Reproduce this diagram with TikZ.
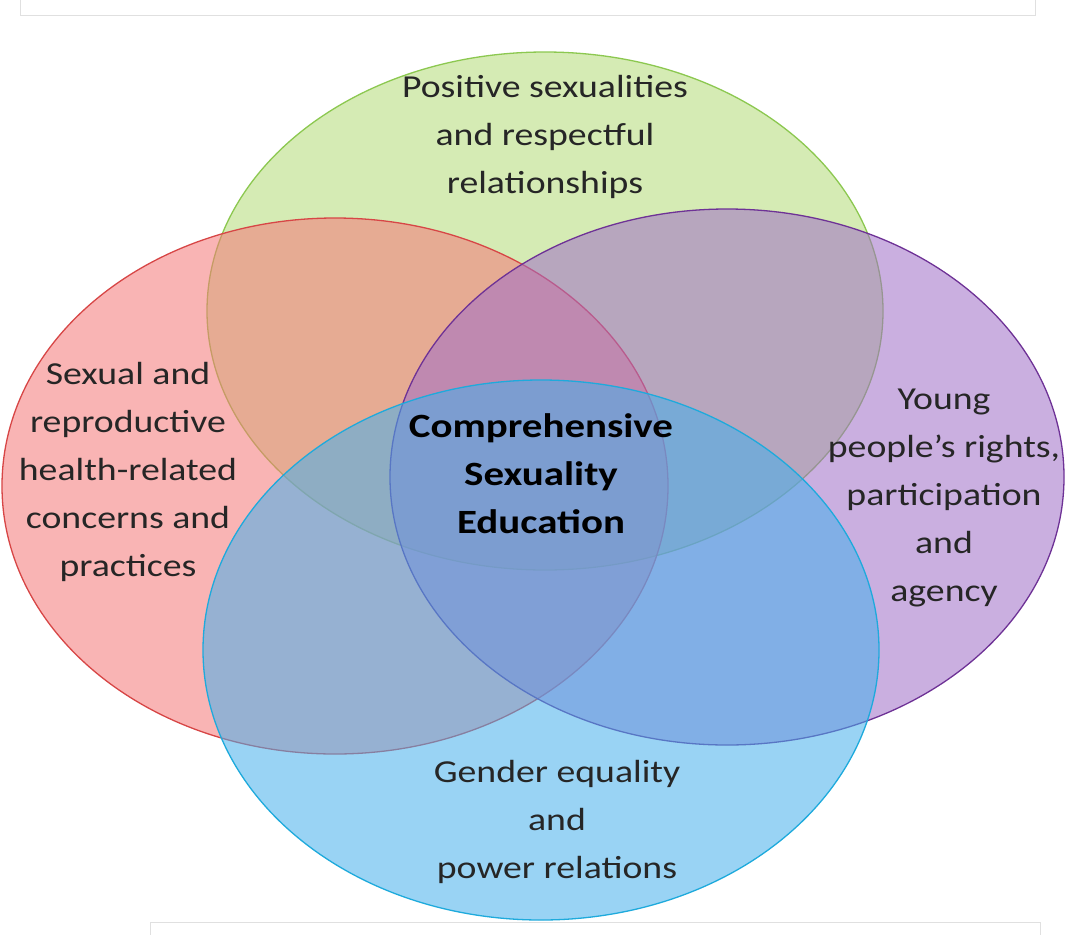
\documentclass[tikz,border=0pt]{standalone}
\usepackage{fontspec}
\setmainfont{Carlito}
\begin{document}
\begin{tikzpicture}[x=1pt,y=-1pt,
  ell/.style={line width=1.3pt, fill opacity=0.55},
  lbl/.style={align=center, xscale=1.18, transform shape, font=\fontsize{32}{48}\selectfont, text=black!85}]
\useasboundingbox (0,0) rectangle (1068,935);
\fill[white] (0,0) rectangle (1068,935);
\draw[black!12] (20,0) -- (20,15) -- (1035,15) -- (1035,0);
\draw[black!12] (150,935) -- (150,922) -- (1040,922) -- (1040,935);
\draw[ell, draw={rgb,255:red,140;green,200;blue,80}, fill={rgb,255:red,180;green,220;blue,120}] (545,311) ellipse [x radius=338, y radius=259];
\draw[ell, draw={rgb,255:red,215;green,70;blue,70}, fill={rgb,255:red,245;green,120;blue,120}] (335,486) ellipse [x radius=333, y radius=268];
\draw[ell, draw={rgb,255:red,110;green,50;blue,150}, fill={rgb,255:red,160;green,110;blue,200}] (727,477) ellipse [x radius=337, y radius=268];
\draw[ell, draw={rgb,255:red,30;green,170;blue,220}, fill={rgb,255:red,70;green,175;blue,235}] (541,650) ellipse [x radius=338, y radius=270];
\node[lbl] (g) at (545,137) {Positive sexualities\\and respectful\\relationships};
\node[lbl] (r) at (128,472) {Sexual and\\reproductive\\health-related\\concerns and\\practices};
\node[lbl] (p) at (944,498) {Young\\people’s rights,\\participation\\and\\agency};
\node[lbl] (b) at (557,822) {Gender equality\\and\\power relations};
\node[lbl, xscale=1.02, font=\bfseries\fontsize{34}{48}\selectfont, text=black] (c) at (541,474) {Comprehensive\\Sexuality\\Education};
\end{tikzpicture}
\end{document}
